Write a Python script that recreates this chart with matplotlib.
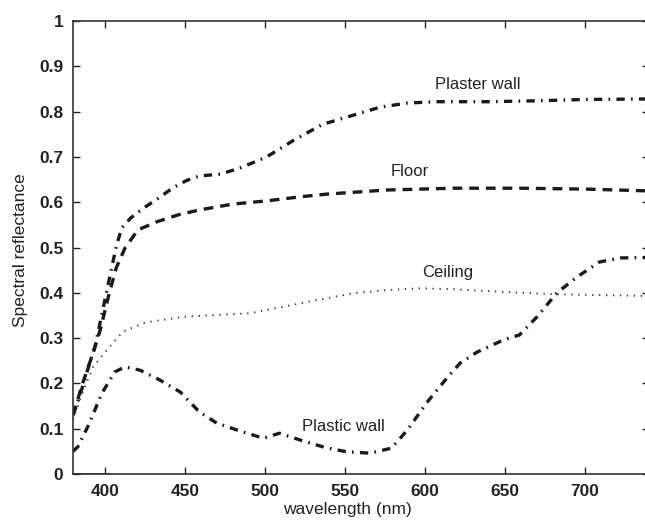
import matplotlib.pyplot as plt

plt.rcParams['font.family'] = ['Liberation Sans', 'DejaVu Sans']
plt.rcParams['lines.scale_dashes'] = False

# values (wavelength nm, reflectance)
plaster_wl = [380, 384, 388.5, 393.75, 399, 403, 407, 410.4, 416, 424, 433, 442.5,
              451, 459, 472, 484, 501, 518, 536, 555, 572, 589, 607, 639, 670, 701, 740]
plaster_r = [0.13, 0.17, 0.223, 0.281, 0.369, 0.436, 0.502, 0.543, 0.565, 0.587, 0.608, 0.632,
             0.648, 0.658, 0.662, 0.675, 0.70, 0.737, 0.772, 0.792, 0.81, 0.819, 0.822, 0.822,
             0.824, 0.827, 0.828]

floor_wl = [380, 386, 392.5, 397, 402, 407, 412.5, 420.6, 432.5, 445.6, 459, 480, 501,
            522, 538.7, 576, 617.5, 659, 701, 740]
floor_r = [0.13, 0.2, 0.267, 0.318, 0.39, 0.455, 0.499, 0.539, 0.557, 0.572, 0.583, 0.596,
           0.603, 0.612, 0.618, 0.627, 0.631, 0.631, 0.629, 0.625]

ceiling_wl = [380, 386, 392.6, 401, 411, 424, 428, 449, 470, 490.6, 511, 534, 555, 576,
              597, 617.5, 649, 680, 740]
ceiling_r = [0.12, 0.18, 0.237, 0.273, 0.314, 0.333, 0.336, 0.347, 0.351, 0.355, 0.369,
             0.385, 0.399, 0.406, 0.41, 0.408, 0.402, 0.397, 0.393]

plastic_wl = [380, 383, 390, 398, 406, 412, 416, 422, 434, 447, 459, 470, 486, 499, 509,
              522, 538, 551, 565.6, 579, 589, 601, 613.7, 622, 632.5, 649, 659, 670, 682.5,
              695, 709, 722, 740]
plastic_r = [0.05, 0.06, 0.11, 0.178, 0.225, 0.236, 0.234, 0.229, 0.208, 0.181, 0.137, 0.112,
             0.093, 0.079, 0.09, 0.075, 0.058, 0.049, 0.046, 0.057, 0.097, 0.157, 0.212, 0.245,
             0.269, 0.296, 0.307, 0.347, 0.40, 0.435, 0.468, 0.477, 0.478]

base_wl = [380, 403]
base_r = [0, 0]

xticks = [400, 450, 500, 550, 600, 650, 700]
yticks = [0, 0.1, 0.2, 0.3, 0.4, 0.5, 0.6, 0.7, 0.8, 0.9, 1]
ytick_labels = ['0', '0.1', '0.2', '0.3', '0.4', '0.5', '0.6', '0.7', '0.8', '0.9', '1']

fig = plt.figure(figsize=(6.45, 5.23), dpi=100)
ax = fig.add_axes([0.1132, 0.0937, 0.893, 0.866])

dashdot = (0, (6, 4.5, 1.2, 4.5))
ax.plot(plaster_wl, plaster_r, color='#1a1a1a', lw=2.4, linestyle=dashdot)
ax.plot(floor_wl, floor_r, color='#1a1a1a', lw=2.4, linestyle=(0, (7, 5)))
ax.plot(ceiling_wl, ceiling_r, color='#444444', lw=1.4, linestyle=(0, (1, 4)))
ax.plot(plastic_wl, plastic_r, color='#1a1a1a', lw=2.4, linestyle=dashdot)
ax.plot(base_wl, base_r, color='#1a1a1a', lw=2.0, solid_capstyle='butt')

lab_kw = dict(ha='center', va='center', fontsize=12, color='#222222')
ax.text(633, 0.859, 'Plaster wall', **lab_kw)
ax.text(590.6, 0.667, 'Floor', **lab_kw)
ax.text(614, 0.444, 'Ceiling', **lab_kw)
ax.text(549, 0.104, 'Plastic wall', **lab_kw)

ax.set_xlim(380, 740)
ax.set_ylim(0, 1)
ax.set_xticks(xticks)
ax.set_yticks(yticks)
ax.set_yticklabels(ytick_labels)
ax.tick_params(direction='in', length=5, width=1, top=True, right=True,
               labelsize=12.5, pad=7, colors='#222222')
for lab in ax.get_xticklabels() + ax.get_yticklabels():
    lab.set_fontweight('bold')
for s in ax.spines.values():
    s.set_linewidth(1.2)
    s.set_color('#333333')

ax.set_xlabel('wavelength (nm)', fontsize=12.5, color='#222222', labelpad=1)
ax.xaxis.set_label_coords(0.477, -0.062)
ax.set_ylabel('Spectral reflectance', fontsize=12.5, color='#222222')
ax.yaxis.set_label_coords(-0.079, 0.495)

fig.savefig('out.png', dpi=100)
